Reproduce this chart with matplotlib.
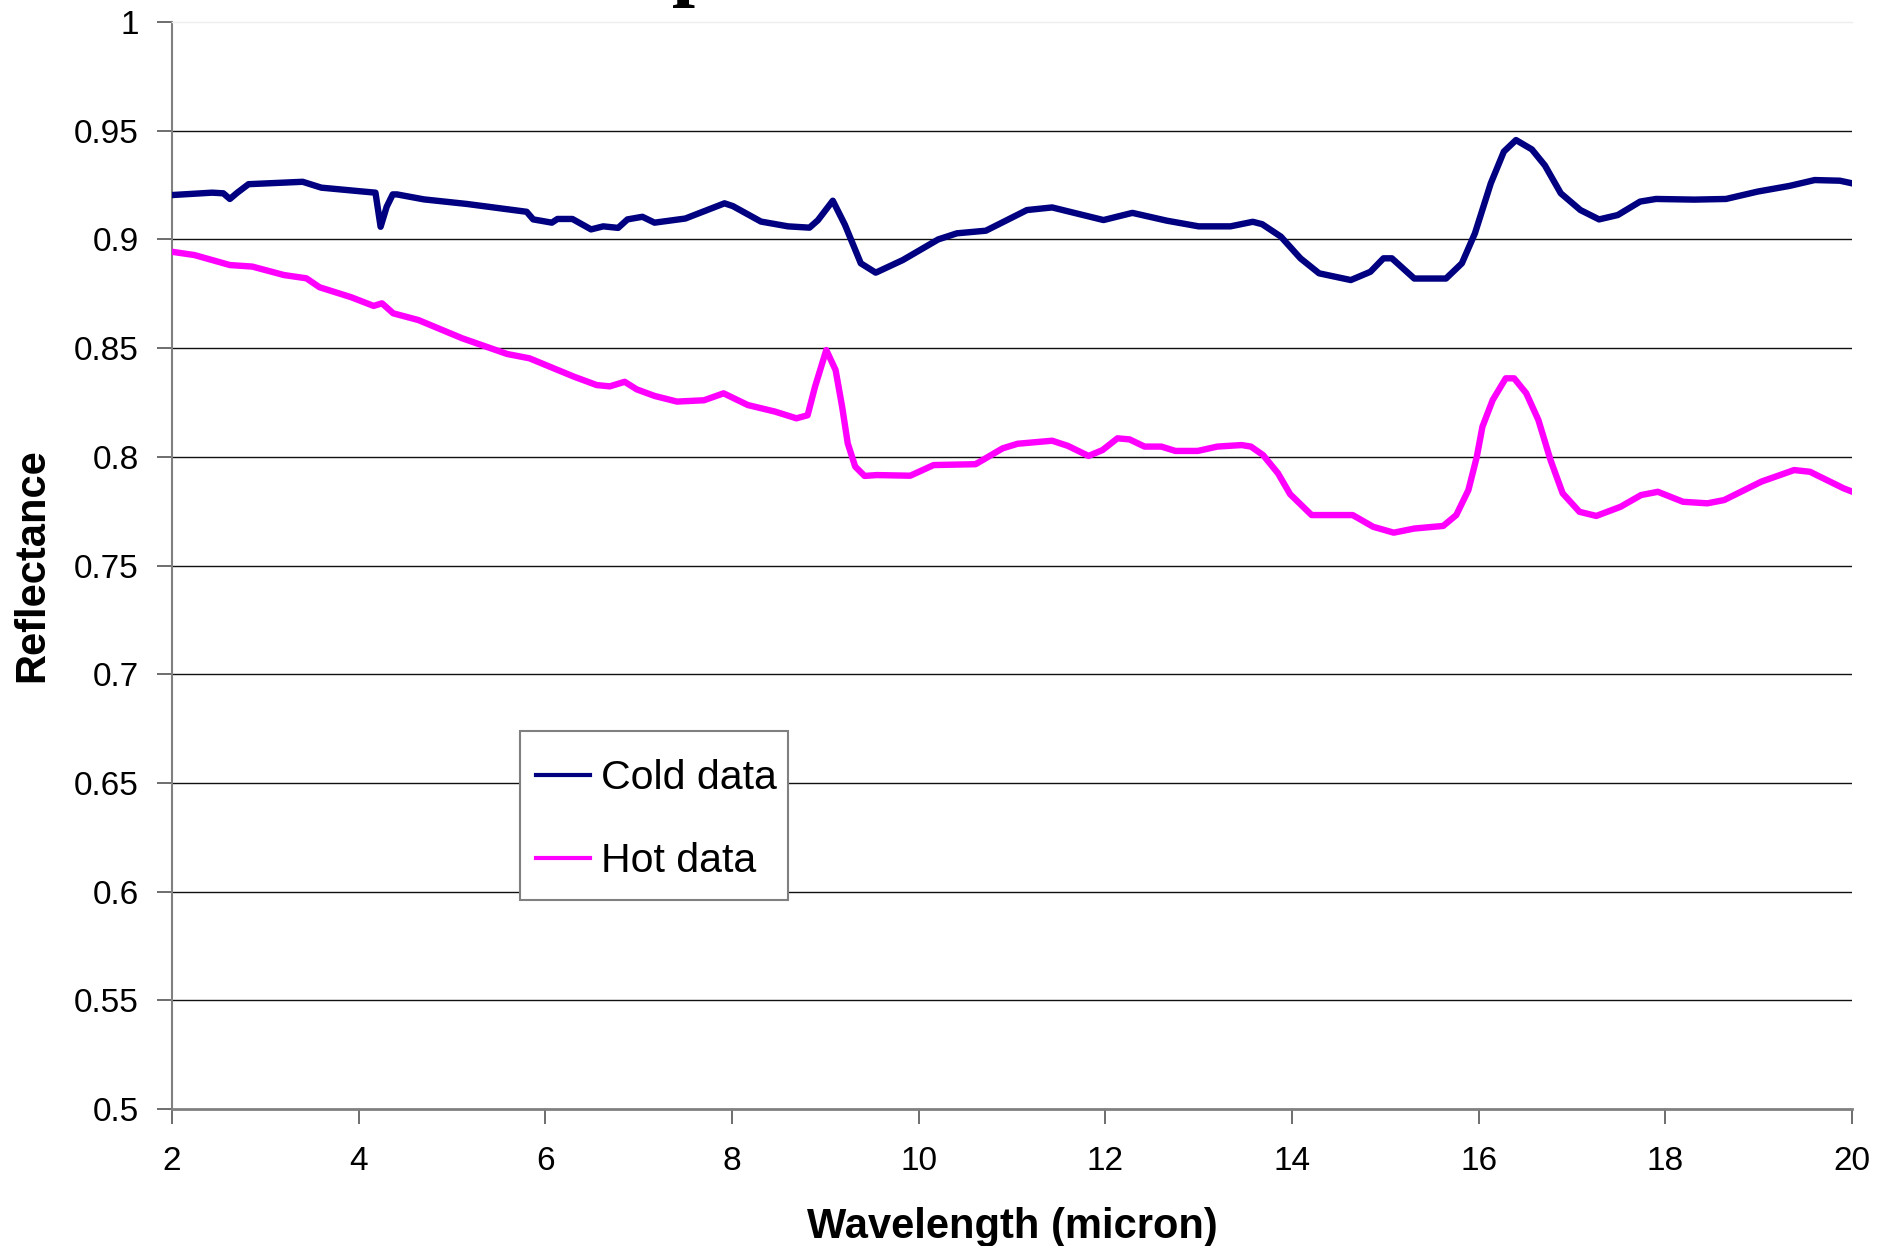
import matplotlib.pyplot as plt
from matplotlib.patches import Rectangle

plt.rcParams['font.family'] = ['Liberation Sans', 'DejaVu Sans']

# reflectance spectra, cold vs hot sample
cold_wl = [2.00, 2.43, 2.55, 2.62, 2.70, 2.82, 3.40, 3.60, 4.05, 4.18, 4.235, 4.30, 4.365,
           4.41, 4.70, 5.16, 5.80, 5.87, 6.07, 6.13, 6.29, 6.49, 6.62, 6.78, 6.88, 7.04,
           7.17, 7.50, 7.92, 8.01, 8.31, 8.60, 8.83, 8.92, 9.08, 9.21, 9.38, 9.54, 9.83,
           10.21, 10.41, 10.72, 11.16, 11.43, 11.98, 12.29, 12.66, 13.00, 13.34, 13.58,
           13.68, 13.88, 14.09, 14.29, 14.63, 14.84, 14.98, 15.07, 15.31, 15.65, 15.82,
           15.96, 16.13, 16.27, 16.40, 16.57, 16.71, 16.88, 17.09, 17.29, 17.49, 17.73,
           17.90, 18.31, 18.65, 18.99, 19.33, 19.60, 19.87, 20.00]
cold_refl = [0.9204, 0.9215, 0.9212, 0.9186, 0.9215, 0.9254, 0.9265, 0.9238, 0.9220, 0.9215,
             0.9058, 0.9150, 0.9207, 0.9207, 0.9184, 0.9163, 0.9127, 0.9092, 0.9077, 0.9094,
             0.9094, 0.9046, 0.9060, 0.9053, 0.9092, 0.9104, 0.9077, 0.9096, 0.9166, 0.9153,
             0.9082, 0.9060, 0.9054, 0.9088, 0.9178, 0.9067, 0.8890, 0.8847, 0.8905, 0.9000,
             0.9028, 0.9040, 0.9135, 0.9147, 0.9089, 0.9122, 0.9086, 0.9060, 0.9060, 0.9081,
             0.9070, 0.9013, 0.8913, 0.8844, 0.8813, 0.8851, 0.8913, 0.8913, 0.8820, 0.8820,
             0.8890, 0.9028, 0.9258, 0.9404, 0.9457, 0.9414, 0.9340, 0.9212, 0.9135, 0.9092,
             0.9112, 0.9174, 0.9186, 0.9183, 0.9186, 0.9220, 0.9246, 0.9273, 0.9270, 0.9258]

hot_wl = [2.00, 2.24, 2.62, 2.86, 3.20, 3.44, 3.58, 3.92, 4.16, 4.25, 4.37, 4.64, 5.11,
          5.59, 5.83, 6.31, 6.55, 6.69, 6.85, 6.98, 7.17, 7.41, 7.70, 7.91, 8.17, 8.46,
          8.69, 8.81, 8.89, 9.01, 9.11, 9.18, 9.24, 9.32, 9.42, 9.55, 9.91, 10.16, 10.61,
          10.90, 11.06, 11.43, 11.60, 11.82, 11.97, 12.13, 12.26, 12.42, 12.60, 12.75,
          12.99, 13.20, 13.46, 13.56, 13.69, 13.85, 13.98, 14.21, 14.65, 14.87, 15.09,
          15.31, 15.62, 15.76, 15.89, 15.98, 16.04, 16.15, 16.29, 16.38, 16.51, 16.64,
          16.77, 16.90, 17.08, 17.26, 17.52, 17.74, 17.92, 18.19, 18.45, 18.63, 19.03,
          19.38, 19.55, 19.73, 19.91, 20.00]
hot_refl = [0.8943, 0.8928, 0.8882, 0.8875, 0.8836, 0.8821, 0.8780, 0.8734, 0.8694, 0.8706,
            0.8660, 0.8629, 0.8545, 0.8473, 0.8453, 0.8368, 0.8330, 0.8324, 0.8345, 0.8310,
            0.8280, 0.8254, 0.8260, 0.8292, 0.8238, 0.8208, 0.8177, 0.8191, 0.8323, 0.8491,
            0.8399, 0.8230, 0.8062, 0.7955, 0.7912, 0.7916, 0.7913, 0.7962, 0.7966, 0.8039,
            0.8060, 0.8074, 0.8050, 0.8004, 0.8031, 0.8085, 0.8080, 0.8047, 0.8047, 0.8027,
            0.8027, 0.8047, 0.8054, 0.8047, 0.8008, 0.7924, 0.7828, 0.7732, 0.7732, 0.7678,
            0.7651, 0.7670, 0.7682, 0.7732, 0.7847, 0.8000, 0.8138, 0.8261, 0.8361, 0.8361,
            0.8292, 0.8169, 0.7985, 0.7832, 0.7747, 0.7728, 0.7770, 0.7824, 0.7839, 0.7793,
            0.7786, 0.7801, 0.7886, 0.7939, 0.7931, 0.7893, 0.7855, 0.7840]

x_ticks = [2, 4, 6, 8, 10, 12, 14, 16, 18, 20]
y_ticks = [0.5, 0.55, 0.6, 0.65, 0.7, 0.75, 0.8, 0.85, 0.9, 0.95, 1.0]
y_ticklabels = ['0.5', '0.55', '0.6', '0.65', '0.7', '0.75', '0.8', '0.85', '0.9', '0.95', '1']

fig = plt.figure(figsize=(18.96, 12.46), dpi=100)
ax = fig.add_axes([172 / 1896, 137 / 1246, 1680 / 1896, 1087 / 1246])

# slide title sits above the figure, only its descender shows
fig.text(672 / 1896, 1.008, 'p', family='Liberation Serif', fontweight='bold',
         fontsize=60, ha='left', va='baseline')

for y in y_ticks[1:-1]:
    ax.axhline(y, color='#111111', lw=1.0, zorder=1)

ax.plot(cold_wl, cold_refl, color='#000080', lw=4.6, label='Cold data', zorder=3)
ax.plot(hot_wl, hot_refl, color='#ff00ff', lw=4.6, label='Hot data', zorder=3)

ax.set_xlim(2, 20)
ax.set_ylim(0.5, 1.0)
ax.set_xticks(x_ticks)
ax.set_xticklabels([str(t) for t in x_ticks])
ax.set_yticks(y_ticks)
ax.set_yticklabels(y_ticklabels)
ax.tick_params(axis='both', labelsize=24, length=11, width=1.2, color='#555555')
ax.tick_params(axis='x', pad=15.5)
ax.tick_params(axis='y', pad=13)

ax.spines['right'].set_visible(False)
ax.spines['top'].set_color('#eeeeee')
ax.spines['top'].set_linewidth(1.0)
ax.spines['left'].set_color('#808080')
ax.spines['left'].set_linewidth(1.5)
ax.spines['bottom'].set_color('#808080')
ax.spines['bottom'].set_linewidth(2.0)

ax.set_xlabel('Wavelength (micron)', fontsize=30, fontweight='bold')
ax.xaxis.set_label_coords(0.5, -0.09)
ax.set_ylabel('Reflectance', fontsize=30, fontweight='bold')
ax.yaxis.set_label_coords(-0.071, 0.5)

# legend box drawn separately so its size can be set freely
ax.add_patch(Rectangle((0.2071, 0.1923), 0.1595, 0.1554, transform=ax.transAxes,
                       facecolor='white', edgecolor='#808080', lw=1.5, zorder=4))
leg = ax.legend(loc='upper left', bbox_to_anchor=(0.2071, 0.3367), borderaxespad=0,
                fontsize=29.5, handlelength=1.32, handletextpad=0.27, borderpad=0.4,
                labelspacing=1.1, frameon=False)
leg.set_zorder(5)
for line in leg.get_lines():
    line.set_linewidth(3.0)

fig.savefig('out.png', dpi=100)
